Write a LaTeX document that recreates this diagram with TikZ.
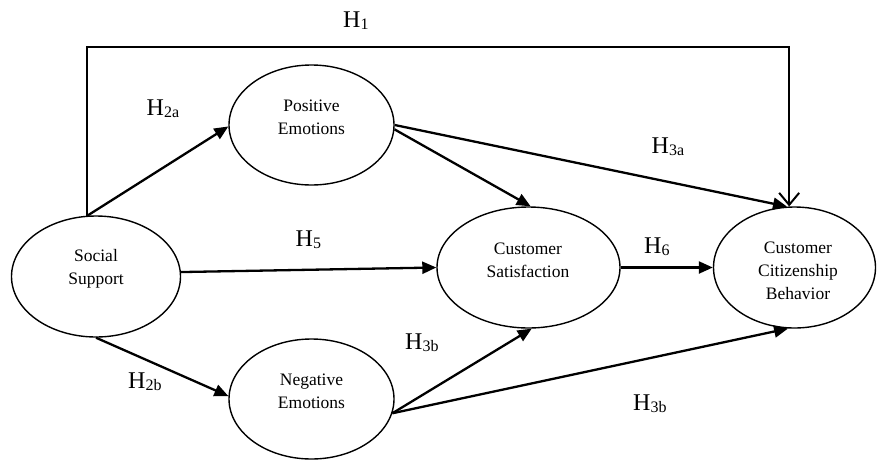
\documentclass[tikz,border=0pt]{standalone}
\usepackage{fontspec}
\setmainfont{Liberation Serif}
\usetikzlibrary{shapes.geometric,arrows.meta}
\newcommand\hyp[1]{H\raisebox{-2pt}{\fontsize{16}{16}\selectfont #1}}
\begin{document}
\begin{tikzpicture}[x=1pt,y=-1pt,
  ell/.style={draw, ellipse, line width=1.4pt, inner sep=0pt},
  txt/.style={align=center, font=\fontsize{17.5}{23}\selectfont, inner sep=0pt},
  hlab/.style={anchor=base west, inner sep=0pt, font=\fontsize{24}{28}\selectfont},
  arr/.style={line width=2.3pt, -{Triangle[length=14pt,width=12pt]}},
  barb/.style={line width=2pt, -{Straight Barb[length=12pt,width=20pt,line width=2pt]}}]
\useasboundingbox (0,0) rectangle (877,461);

% ellipses
\node[ell, minimum width=169pt, minimum height=121pt] (ss) at (96,276.5) {};
\node[ell, minimum width=165pt, minimum height=120pt] (pe) at (311.5,125) {};
\node[ell, minimum width=165pt, minimum height=120pt] (ne) at (311.5,399) {};
\node[ell, minimum width=183pt, minimum height=121pt] (cs) at (528.5,267.5) {};
\node[ell, minimum width=162pt, minimum height=121pt] (ccb) at (794.5,267.5) {};

% texts
\node[txt] (sst) at (96,268.5) {Social\\Support};
\node[txt] (pet) at (311.5,117) {Positive\\Emotions};
\node[txt] (net) at (311.5,391.3) {Negative\\Emotions};
\node[txt] (cst) at (528,260) {Customer\\Satisfaction};
\node[txt] (ccbt) at (798,271) {Customer\\Citizenship\\Behavior};

% connectors
\coordinate (topy) at (0,47);
\draw[barb] (ss.98) |- (topy -| ccb.95) -- (ccb.95);
\draw[arr] (ss.98) -- (pe.181);
\draw[arr] (pe.-3) -- (cs.88);
\draw[arr] (pe.east) -- (ccb.97);
\draw[arr] (ss.3) -- (cs.west);
\draw[arr] (ss.south) -- (ne.178);
\draw[arr] (ne.-10) -- (cs.-87);
\draw[arr] (ne.-10) -- (ccb.264);
\draw[arr] (cs.east) -- (ccb.west);

% labels
\node[hlab] (h1) at (343,27.5) {\hyp{1}};
\node[hlab] (h2a) at (146.5,115) {\hyp{2a}};
\node[hlab] (h3a) at (651.5,153) {\hyp{3a}};
\node[hlab] (h5) at (295.5,246.5) {\hyp{5}};
\node[hlab] (h6) at (644,253) {\hyp{6}};
\node[hlab] (h3b1) at (405,349) {\hyp{3b}};
\node[hlab] (h2b) at (128,388) {\hyp{2b}};
\node[hlab] (h3b2) at (633,410) {\hyp{3b}};
\end{tikzpicture}
\end{document}
